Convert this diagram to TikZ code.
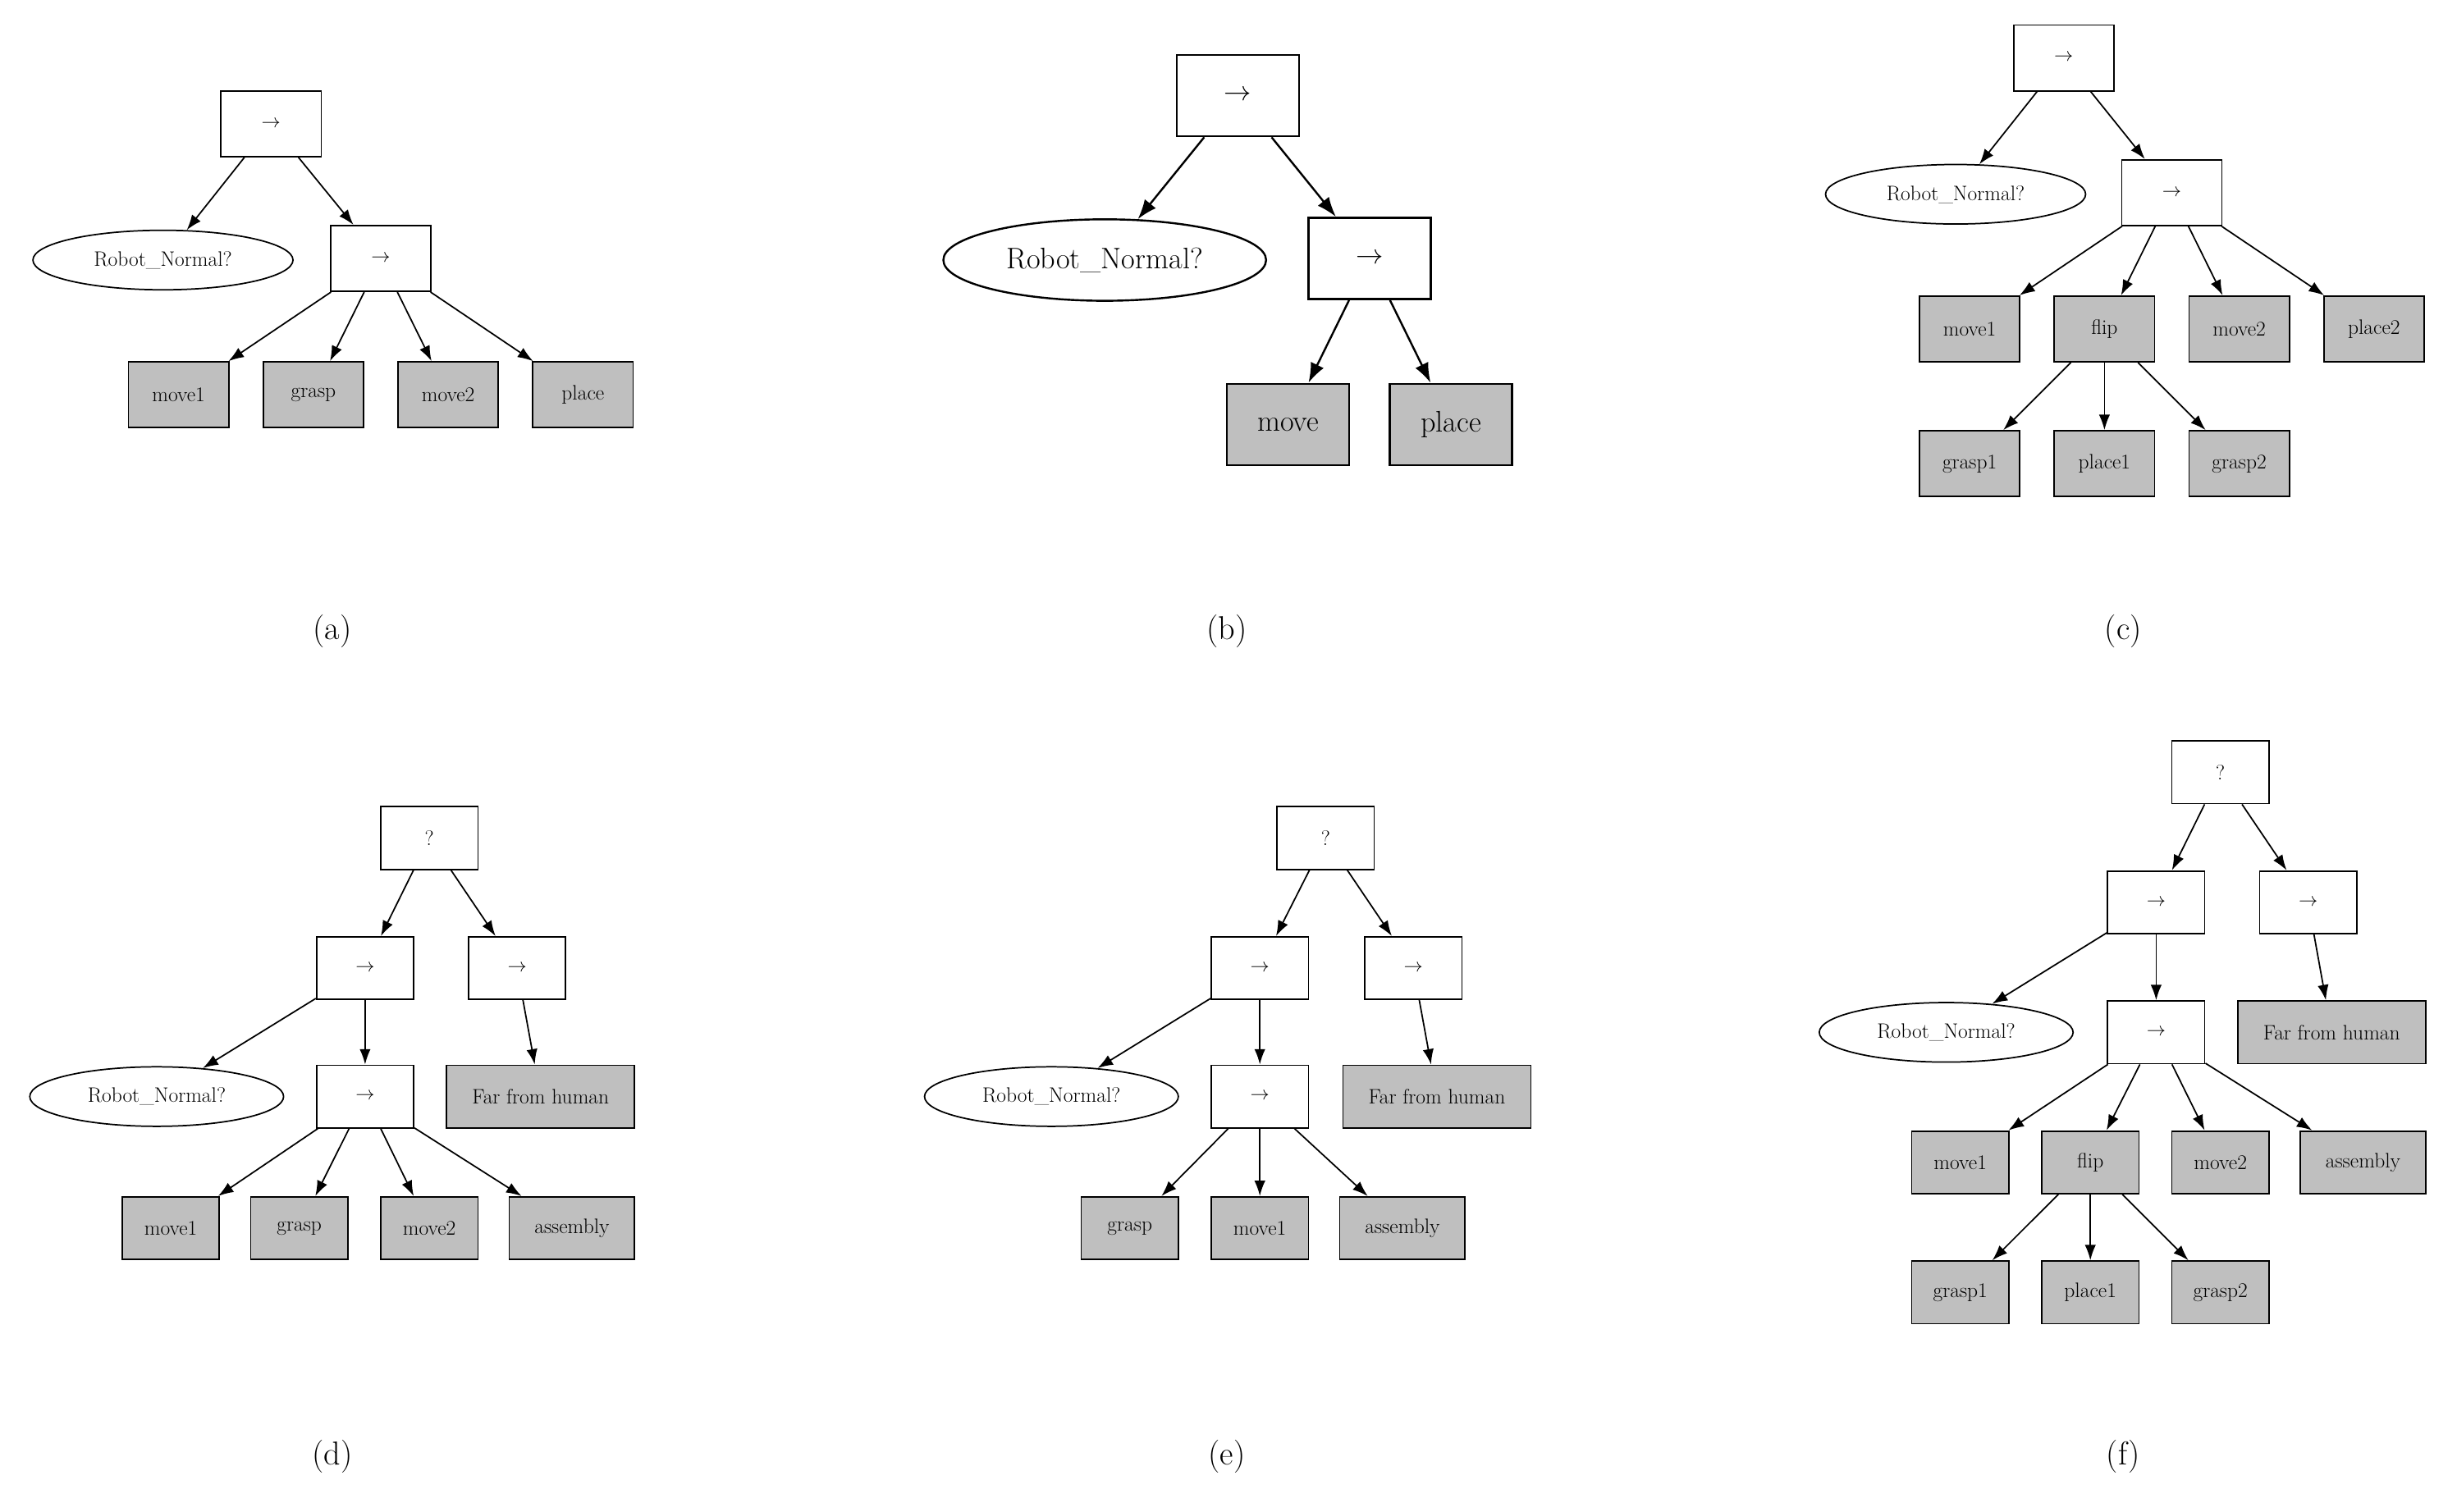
\documentclass[tikz,border=0pt]{standalone}
\usetikzlibrary{shapes.geometric,arrows.meta}
\begin{document}
\begin{tikzpicture}[x=0.05cm,y=-0.05cm,
  base/.style={draw,line width=1.3pt,font=\fontsize{19}{22}\selectfont,inner sep=0pt},
  op/.style={base,rectangle,fill=white,minimum width=3.1cm,minimum height=2.0cm},
  opa/.style={op,minimum width=3.2cm,minimum height=2.1cm},
  act/.style={op,fill=black!25},
  acta/.style={opa,fill=black!25},
  cond/.style={base,ellipse,minimum width=8.3cm,minimum height=1.9cm},
  big/.style={font=\fontsize{27}{32}\selectfont,minimum width=3.9cm,minimum height=2.6cm,line width=1.8pt},
  e/.style={-{Latex[length=14pt,width=10pt]},line width=1.3pt},
  eb/.style={-{Latex[length=18pt,width=13pt]},line width=1.8pt},
  capt/.style={font=\fontsize{30}{36}\selectfont}]
\useasboundingbox (0,0) rectangle (1568,964.7);
% (a)
\node[opa] (a0) at (173,79) {$\rightarrow$};
\node[cond] (a1) at (104,166) {Robot\_Normal?};
\node[opa] (a2) at (243,165) {$\rightarrow$};
\node[acta] (a3) at (114,252) {move1};
\node[acta] (a4) at (200,252) {grasp};
\node[acta] (a5) at (286,252) {move2};
\node[acta] (a6) at (372,252) {place};
\foreach \s/\t in {a0/a1,a0/a2,a2/a3,a2/a4,a2/a5,a2/a6} \draw[e] (\s) -- (\t);
\node[capt] (ca) at (212,403) {(a)};
% (b)
\node[opa,big] (b0) at (790,61) {$\rightarrow$};
\node[cond,big,minimum width=10.3cm] (b1) at (705,166) {Robot\_Normal?};
\node[opa,big] (b2) at (874,165) {$\rightarrow$};
\node[acta,big] (b3) at (822,271) {move};
\node[acta,big] (b4) at (926,271) {place};
\foreach \s/\t in {b0/b1,b0/b2,b2/b3,b2/b4} \draw[eb] (\s) -- (\t);
\node[capt] (cb) at (783,403) {(b)};
% (c)
\node[opa] (c0) at (1317,37) {$\rightarrow$};
\node[cond] (c1) at (1248,124) {Robot\_Normal?};
\node[opa] (c2) at (1386,123) {$\rightarrow$};
\node[acta] (c3) at (1257,210) {move1};
\node[acta] (c4) at (1343,210) {flip};
\node[acta] (c5) at (1429,210) {move2};
\node[acta] (c6) at (1515,210) {place2};
\node[acta] (c7) at (1257,296) {grasp1};
\node[acta] (c8) at (1343,296) {place1};
\node[acta] (c9) at (1429,296) {grasp2};
\foreach \s/\t in {c0/c1,c0/c2,c2/c3,c2/c4,c2/c5,c2/c6,c4/c7,c4/c8,c4/c9} \draw[e] (\s) -- (\t);
\node[capt] (cc) at (1355,403) {(c)};
% (d)
\node[op] (d0) at (274,535) {?};
\node[op] (d1) at (233,618) {$\rightarrow$};
\node[op] (d2) at (330,618) {$\rightarrow$};
\node[cond,minimum width=8.1cm] (d3) at (100,700) {Robot\_Normal?};
\node[op] (d4) at (233,700) {$\rightarrow$};
\node[act,minimum width=6.0cm] (d5) at (345,700) {Far from human};
\node[act] (d6) at (109,784) {move1};
\node[act] (d7) at (191,784) {grasp};
\node[act] (d8) at (274,784) {move2};
\node[act,minimum width=4.0cm] (d9) at (365,784) {assembly};
\foreach \s/\t in {d0/d1,d0/d2,d1/d3,d1/d4,d2/d5,d4/d6,d4/d7,d4/d8,d4/d9} \draw[e] (\s) -- (\t);
\node[capt] (cd) at (212,930) {(d)};
% (e)
\node[op] (e0) at (846,535) {?};
\node[op] (e1) at (804,618) {$\rightarrow$};
\node[op] (e2) at (902,618) {$\rightarrow$};
\node[cond,minimum width=8.1cm] (e3) at (671,700) {Robot\_Normal?};
\node[op] (e4) at (804,700) {$\rightarrow$};
\node[act,minimum width=6.0cm] (e5) at (917,700) {Far from human};
\node[act] (e6) at (721,784) {grasp};
\node[act] (e7) at (804,784) {move1};
\node[act,minimum width=4.0cm] (e8) at (895,784) {assembly};
\foreach \s/\t in {e0/e1,e0/e2,e1/e3,e1/e4,e2/e5,e4/e6,e4/e7,e4/e8} \draw[e] (\s) -- (\t);
\node[capt] (ce) at (783,930) {(e)};
% (f)
\node[op] (f0) at (1417,493) {?};
\node[op] (f1) at (1376,576) {$\rightarrow$};
\node[op] (f2) at (1473,576) {$\rightarrow$};
\node[cond,minimum width=8.1cm] (f3) at (1242,659) {Robot\_Normal?};
\node[op] (f4) at (1376,659) {$\rightarrow$};
\node[act,minimum width=6.0cm] (f5) at (1488,659) {Far from human};
\node[act] (f6) at (1251,742) {move1};
\node[act] (f7) at (1334,742) {flip};
\node[act] (f8) at (1417,742) {move2};
\node[act,minimum width=4.0cm] (f9) at (1508,742) {assembly};
\node[act] (f10) at (1251,825) {grasp1};
\node[act] (f11) at (1334,825) {place1};
\node[act] (f12) at (1417,825) {grasp2};
\foreach \s/\t in {f0/f1,f0/f2,f1/f3,f1/f4,f2/f5,f4/f6,f4/f7,f4/f8,f4/f9,f7/f10,f7/f11,f7/f12} \draw[e] (\s) -- (\t);
\node[capt] (cf) at (1355,930) {(f)};
\end{tikzpicture}
\end{document}
